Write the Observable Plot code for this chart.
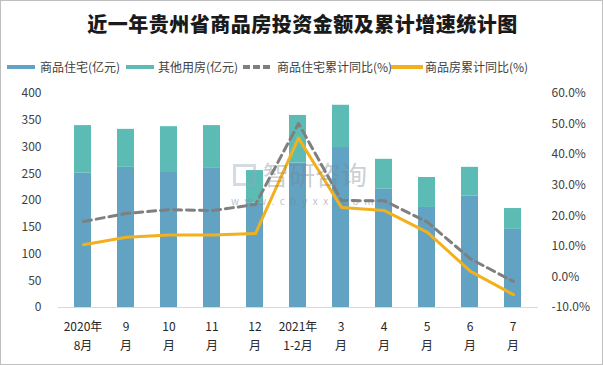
<!DOCTYPE html>
<html><head><meta charset="utf-8">
<script src="https://cdn.jsdelivr.net/npm/d3@7"></script>
<script src="https://cdn.jsdelivr.net/npm/@observablehq/plot@0.6"></script>
<style>
body{margin:0;background:#fff;font-family:"Noto Sans CJK SC","Noto Sans",sans-serif;}
#wrap{position:relative;width:603px;height:365px;box-sizing:border-box;border:1px solid #bfbfbf;overflow:hidden;}
#title{position:absolute;left:0;top:10px;width:603px;text-align:center;font-size:20px;font-weight:900;color:#1a1a1a;line-height:26px;letter-spacing:0.5px;}
#legend{position:absolute;left:0;top:56px;width:603px;height:20px;font-size:12px;color:#404040;}
.li{position:absolute;top:0;height:20px;line-height:20px;white-space:nowrap;}
.sw{position:absolute;top:8px;height:4px;}
#plots{position:absolute;left:0;top:80px;width:603px;height:285px;}
#plots svg{position:absolute;left:0;top:0;}
.wm{position:absolute;pointer-events:none;white-space:nowrap;}
</style></head>
<body>
<div id="wrap">
<div id="title">近一年贵州省商品房投资金额及累计增速统计图</div>
<div id="legend"></div>
<div id="plots"></div>
<div class="wm" style="left:232px;top:163px;width:23px;height:22px;border:3px solid rgba(150,165,190,0.4);box-sizing:border-box;"></div>
<div class="wm" style="left:262px;top:159px;font-size:26px;line-height:27px;height:27px;color:rgba(120,130,140,0.4);">智研咨询</div>
<div class="wm" style="left:230px;top:194px;font-size:10px;line-height:11px;height:11px;color:rgba(120,130,140,0.5);letter-spacing:5.6px;">www.chyxx.com</div>
</div>
<script>
const months = ["2020年\n8月","9\n月","10\n月","11\n月","12\n月","2021年\n1-2月","3\n月","4\n月","5\n月","6\n月","7\n月"];
const residential = [251, 262, 254, 260, 195, 270, 299, 221, 187, 208, 146];
const otherUse = [89, 71, 84, 80, 61, 89, 79, 56, 56, 54, 39];
const resYoY = [18.1, 20.8, 22.0, 21.7, 23.7, 50.2, 25.0, 24.9, 17.9, 5.9, -1.5];
const allYoY = [10.5, 13.0, 13.7, 13.7, 14.2, 45.4, 22.7, 21.7, 14.6, 1.8, -5.8];
const leftTicks = [0, 50, 100, 150, 200, 250, 300, 350, 400];
const rightTicks = [-10, 0, 10, 20, 30, 40, 50, 60];
const seriesNames = ["商品住宅(亿元)", "其他用房(亿元)", "商品住宅累计同比(%)", "商品房累计同比(%)"];
const colors = ["#62a3c3", "#5cbcb5", "#7f7f7f", "#f2b11c"];

// legend
const legend = document.getElementById("legend");
const legendPos = [[6, 28, 39], [125, 28, 157], [242, 27, 276], [390, 32, 424]];
seriesNames.forEach((n, i) => {
  const [sx, sw, tx] = legendPos[i];
  const s = document.createElement("div");
  s.className = "sw";
  s.style.left = sx + "px"; s.style.width = sw + "px";
  if (i === 2) { s.style.background = `repeating-linear-gradient(90deg, ${colors[i]} 0 7px, transparent 7px 10px)`; }
  else s.style.background = colors[i];
  legend.appendChild(s);
  const t = document.createElement("div");
  t.className = "li"; t.style.left = tx + "px"; t.textContent = n;
  legend.appendChild(t);
});

const barData = [];
months.forEach((m, i) => {
  barData.push({month: m, series: seriesNames[0], value: residential[i]});
  barData.push({month: m, series: seriesNames[1], value: otherUse[i]});
});
const lineData = [];
months.forEach((m, i) => {
  lineData.push({month: m, series: seriesNames[2], value: resYoY[i]});
  lineData.push({month: m, series: seriesNames[3], value: allYoY[i]});
});

const common = {
  width: 603, height: 285,
  marginLeft: 57, marginRight: 66, marginTop: 12, marginBottom: 59,
  style: {fontFamily: '"Noto Sans CJK SC","Noto Sans",sans-serif', fontSize: "12px", color: "#404040", background: "transparent"}
};
const xScale = {domain: months, paddingInner: 0.6, paddingOuter: 0.3};

const p1 = Plot.plot({
  ...common,
  x: {...xScale, axis: null},
  y: {domain: [0, 400], axis: null},
  color: {domain: seriesNames.slice(0, 2), range: colors.slice(0, 2)},
  marks: [
    Plot.barY(barData, {x: "month", y: "value", fill: "series", order: seriesNames.slice(0, 2)}),
    Plot.ruleY([0], {stroke: "#d9d9d9", strokeWidth: 1}),
    Plot.axisY(leftTicks, {anchor: "left", label: null, tickSize: 0, tickPadding: 17, fontSize: 12, fill: "#404040"}),
    Plot.axisX({anchor: "bottom", label: null, tickSize: 0, tickPadding: 10, fontSize: 12, lineHeight: 1.6, fill: "#262626"})
  ]
});
const p2 = Plot.plot({
  ...common,
  x: {...xScale, axis: null},
  y: {domain: [-10, 60], axis: null},
  marks: [
    Plot.line(lineData.filter(d => d.series === seriesNames[2]), {x: "month", y: "value", stroke: colors[2], strokeWidth: 3, strokeDasharray: "8,5"}),
    Plot.line(lineData.filter(d => d.series === seriesNames[3]), {x: "month", y: "value", stroke: colors[3], strokeWidth: 3}),
    Plot.axisY(rightTicks, {anchor: "right", label: null, tickSize: 0, tickPadding: 13, fontSize: 12, fill: "#404040", tickFormat: d => d.toFixed(1) + "%", textAnchor: "start"})
  ]
});
document.getElementById("plots").append(p1, p2);
</script>
</body></html>
